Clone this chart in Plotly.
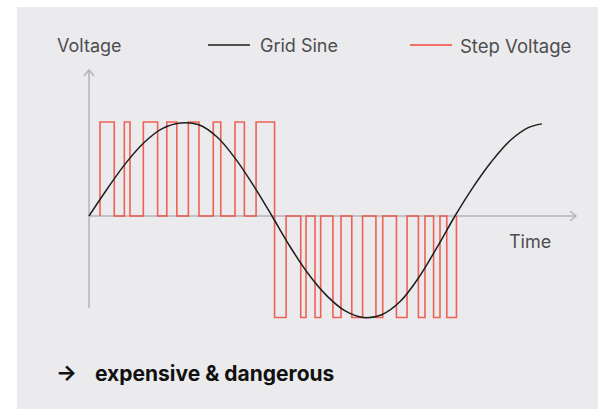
import plotly.graph_objects as go

# ---------------- data (time in ms, voltage in relative units) ----------------
sine_t = [0, 1, 2, 3, 4, 5, 6, 7, 8, 9, 10, 11, 12, 13, 14, 15, 16, 17, 18, 19,
          20, 21, 22, 23, 24, 24.75]
sine_v = [0.00, 0.29, 0.56, 0.78, 0.93, 0.99, 0.97, 0.84, 0.61, 0.32, 0.00,
          -0.33, -0.62, -0.85, -1.01, -1.08, -1.05, -0.91, -0.66, -0.34, 0.00,
          0.31, 0.58, 0.80, 0.94, 0.98]

pos_start = [0.60, 1.93, 2.97, 4.25, 5.43, 6.79, 7.98, 9.13]
pos_end = [1.38, 2.24, 3.75, 4.80, 6.01, 7.20, 8.49, 10.14]
pos_level = 1.0
neg_start = [10.14, 11.57, 12.35, 13.33, 14.36, 15.68, 16.80, 18.00, 18.83, 19.55]
neg_end = [10.77, 11.86, 12.66, 13.77, 14.95, 16.05, 17.38, 18.36, 19.18, 20.08]
neg_level = -1.08

series_names = ["Grid Sine", "Step Voltage"]
axis_labels = ["Voltage", "Time"]
note_text = "expensive & dangerous"

# ---------------- build step path ----------------
step_x, step_y = [], []
for s, e in zip(pos_start, pos_end):
    step_x += [s, s, e, e]
    step_y += [0, pos_level, pos_level, 0]
for s, e in zip(neg_start, neg_end):
    step_x += [s, s, e, e]
    step_y += [0, neg_level, neg_level, 0]

# ---------------- geometry ----------------
W, H = 598, 409
X0PX, PXMS = 89, 18.3
Y0PX, PXV = 216, 94
xr = [-X0PX / PXMS, (W - X0PX) / PXMS]
yr = [(Y0PX - H) / PXV, Y0PX / PXV]

def px(x):
    return x / W

def py(y):
    return 1 - y / H

RED = "#f0493a"
GRAY_AX = "#b4b4b8"
TXT = "#4d4d50"
FONT = "Inter"

fig = go.Figure()
fig.add_trace(go.Scatter(x=step_x, y=step_y, mode="lines", name=series_names[1],
                         line=dict(color=RED, width=1.6), opacity=0.85,
                         showlegend=False, hoverinfo="skip"))
fig.add_trace(go.Scatter(x=sine_t, y=sine_v, mode="lines", name=series_names[0],
                         line=dict(color="#1e1e1e", width=1.5, shape="spline"),
                         showlegend=False, hoverinfo="skip"))

y_axis_top, y_axis_bot = (Y0PX - 70) / PXV, (Y0PX - 308) / PXV
x_axis_end = (576 - X0PX) / PXMS

shapes = [
    dict(type="rect", xref="paper", yref="paper", x0=px(17), x1=1, y0=0, y1=py(7),
         fillcolor="#ebebee", line=dict(width=0), layer="below"),
    dict(type="line", xref="x", yref="y", x0=0, x1=0, y0=y_axis_bot, y1=y_axis_top,
         line=dict(color=GRAY_AX, width=1.5), layer="below"),
    dict(type="line", xref="x", yref="y", x0=0, x1=x_axis_end, y0=0, y1=0,
         line=dict(color=GRAY_AX, width=1.5), layer="below"),
    dict(type="path", xref="x", yref="y", xsizemode="pixel", ysizemode="pixel",
         xanchor=0, yanchor=y_axis_top, path="M -5,-6 L 0,0 L 5,-6",
         line=dict(color=GRAY_AX, width=1.5)),
    dict(type="path", xref="x", yref="y", xsizemode="pixel", ysizemode="pixel",
         xanchor=x_axis_end, yanchor=0, path="M -6,5 L 0,0 L -6,-5",
         line=dict(color=GRAY_AX, width=1.5)),
    # legend samples
    dict(type="line", xref="paper", yref="paper", x0=px(208), x1=px(250), y0=py(45), y1=py(45),
         line=dict(color="#1e1e1e", width=1.5)),
    dict(type="line", xref="paper", yref="paper", x0=px(410), x1=px(452), y0=py(45), y1=py(45),
         line=dict(color=RED, width=1.5)),
]

def ann(text, x, y, size=18, color=TXT, bold=False):
    return dict(text=("<b>%s</b>" % text) if bold else text, xref="paper", yref="paper",
                x=px(x), y=py(y), xanchor="left", yanchor="middle", showarrow=False,
                font=dict(family=FONT, size=size, color=color))

annotations = [
    ann(axis_labels[0], 55, 46),
    ann(series_names[0], 258, 46),
    ann(series_names[1], 458, 46, size=18.5),
    ann(axis_labels[1], 507, 242),
    ann("<b>→</b>", 54, 372, size=22, color="#111111"),
    ann(note_text, 93, 373, size=21, color="#111111", bold=True),
]

fig.update_layout(
    width=W, height=H,
    margin=dict(l=0, r=0, t=0, b=0),
    paper_bgcolor="white", plot_bgcolor="rgba(0,0,0,0)",
    xaxis=dict(range=xr, domain=[0, 1], visible=False, fixedrange=True),
    yaxis=dict(range=yr, domain=[0, 1], visible=False, fixedrange=True),
    shapes=shapes, annotations=annotations,
)

fig.write_html("out.html", config={"displayModeBar": False},
               post_script="document.body.style.margin='0';document.body.style.overflow='hidden';")
